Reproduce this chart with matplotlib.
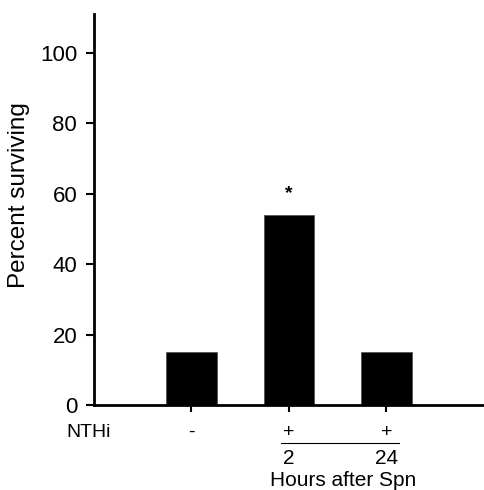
import numpy as np
import matplotlib.pyplot as plt

plt.rcParams['font.family'] = ['Liberation Sans', 'DejaVu Sans']

groups = ['-', '+', '+']
hours = ['', '2', '24']
surviving = [15, 54, 15]
star_value = 60

fig = plt.figure(figsize=(4.84, 4.90), dpi=100)
ax = fig.add_axes([0.194, 0.1735, 0.806, 0.798])

x = np.arange(len(surviving))
ax.bar(x, surviving, width=0.52, color='black', edgecolor='#555555', linewidth=0.6)
ax.text(1, star_value, '*', ha='center', va='center', fontsize=14, fontweight='bold')

ax.set_xlim(-1, 3)
ax.set_ylim(0, 111)
ax.set_yticks([0, 20, 40, 60, 80, 100])
ax.set_xticks(x)
ax.set_xticklabels([])
ax.tick_params(axis='y', labelsize=16, width=1.5, length=6, pad=6, direction='out')
ax.tick_params(axis='x', width=1.5, length=5, direction='out')
for s in ['top', 'right']:
    ax.spines[s].set_visible(False)
ax.spines['left'].set_linewidth(2)
ax.spines['bottom'].set_linewidth(2)

ax.set_ylabel('Percent surviving', fontsize=17.5)
ax.yaxis.set_label_coords(-0.165, 0.537)

# rows under the axis
ax.text(-1.05, -7.7, 'NTHi', ha='center', va='center', fontsize=14, clip_on=False)
for xi, g in zip(x, groups):
    ax.text(xi, -7.7, g, ha='center', va='center', fontsize=14, clip_on=False)
for xi, h in zip(x, hours):
    if h:
        ax.text(xi, -15.3, h, ha='center', va='center', fontsize=15, clip_on=False)
ax.plot([0.92, 2.13], [-10.8, -10.8], color='black', linewidth=0.8, clip_on=False)
ax.text(1.56, -21.5, 'Hours after Spn', ha='center', va='center', fontsize=15, clip_on=False)

fig.savefig('out.png', dpi=100)
